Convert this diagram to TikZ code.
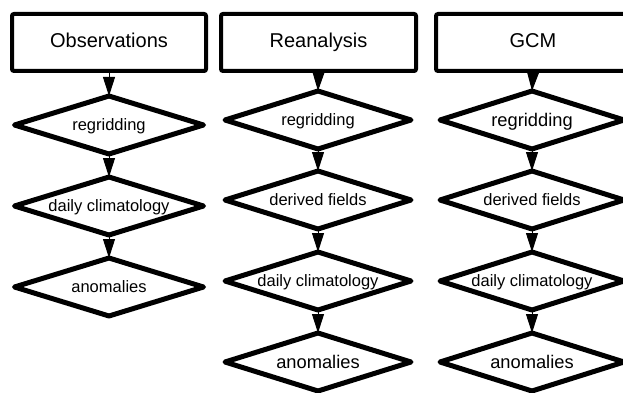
\documentclass[tikz,border=0pt]{standalone}
\usepackage{fontspec}
\setmainfont{Liberation Sans}
\usetikzlibrary{arrows.meta}
\newcommand{\dtext}[1]{\raisebox{-0.36em}[0pt][0pt]{\makebox[0pt]{#1}}}
\tikzset{
  srcbox/.style={draw, line width=4pt, rounded corners=2pt, minimum width=194pt, minimum height=57pt, inner sep=0pt, text height=14.5pt, text depth=4pt, font=\fontsize{20}{24}\selectfont},
  stepdia/.style={rectangle, minimum width=189pt, minimum height=58pt, inner sep=0pt, outer sep=0pt, font=\fontsize{16.5}{20}\selectfont},
  diastroke/.style={draw, line width=5pt, line join=round},
  bigtxt/.style={font=\fontsize{18.3}{22}\selectfont},
  arr/.style={line width=1pt, -{Triangle[length=19pt,width=12pt]}}
}
\begin{document}
\begin{tikzpicture}[x=1pt,y=-1pt]
\useasboundingbox (0,0) rectangle (623,393);
% column 1
\node[srcbox] (o) at (109,42.5) {Observations};
\node[stepdia] (o1) at (109,125) {\dtext{regridding}};
\node[stepdia] (o2) at (109,206) {\dtext{daily climatology}};
\node[stepdia] (o3) at (109,287) {\dtext{anomalies}};
% column 2
\node[srcbox, minimum width=195pt] (r) at (318.5,42.5) {Reanalysis};
\node[stepdia, minimum width=186pt] (r1) at (318,120) {\dtext{regridding}};
\node[stepdia, minimum width=186pt] (r2) at (318,200) {\dtext{derived fields}};
\node[stepdia, minimum width=186pt] (r3) at (318,281) {\dtext{daily climatology}};
\node[stepdia, minimum width=186pt, bigtxt] (r4) at (318,362) {\dtext{anomalies}};
% column 3
\node[srcbox] (g) at (533,42.5) {GCM};
\node[stepdia, minimum width=184pt, bigtxt] (g1) at (532,120) {\dtext{regridding}};
\node[stepdia, minimum width=184pt] (g2) at (532,200) {\dtext{derived fields}};
\node[stepdia, minimum width=184pt] (g3) at (532,281) {\dtext{daily climatology}};
\node[stepdia, minimum width=184pt, bigtxt] (g4) at (532,362) {\dtext{anomalies}};
% diamond outlines
\foreach \n in {o1,o2,o3,r1,r2,r3,r4,g1,g2,g3,g4}
  \draw[diastroke] (\n.north) -- (\n.east) -- (\n.south) -- (\n.west) -- cycle;
% connectors
\draw[arr] (o.south) -- (o1.north);
\draw[arr] (o1.south) -- (o2.north);
\draw[arr] (o2.south) -- (o3.north);
\draw[arr] (r.south) -- (r1.north);
\draw[arr] (r1.south) -- (r2.north);
\draw[arr] (r2.south) -- (r3.north);
\draw[arr] (r3.south) -- (r4.north);
\draw[arr] (g.south) -- (g1.north);
\draw[arr] (g1.south) -- (g2.north);
\draw[arr] (g2.south) -- (g3.north);
\draw[arr] (g3.south) -- (g4.north);
\end{tikzpicture}
\end{document}
